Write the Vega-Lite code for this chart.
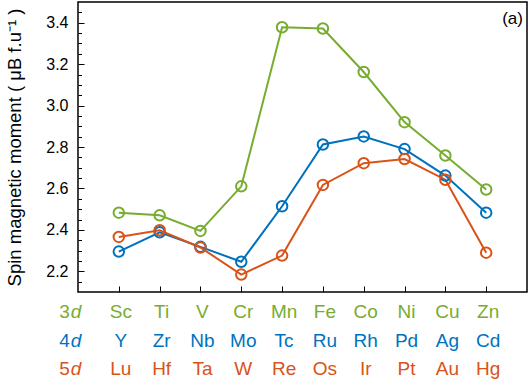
{
  "$schema": "https://vega.github.io/schema/vega-lite/v6.json",
  "width": 449,
  "height": 290,
  "autosize": "none",
  "padding": {"left": 78, "top": 2, "right": 2, "bottom": 90},
  "background": "white",
  "config": {
    "font": "Liberation Sans",
    "view": {"stroke": "black", "strokeWidth": 1.5},
    "axis": {"grid": false, "domain": false, "tickColor": "black", "tickWidth": 1, "labelColor": "black", "titleColor": "black"}
  },
  "resolve": {"axis": {"y": "independent"}},
  "datasets": {
    "pts": [
      {"series": "3d", "el": "Sc", "idx": 1, "v": 2.483},
      {"series": "3d", "el": "Ti", "idx": 2, "v": 2.47},
      {"series": "3d", "el": "V", "idx": 3, "v": 2.395},
      {"series": "3d", "el": "Cr", "idx": 4, "v": 2.61},
      {"series": "3d", "el": "Mn", "idx": 5, "v": 3.378},
      {"series": "3d", "el": "Fe", "idx": 6, "v": 3.372},
      {"series": "3d", "el": "Co", "idx": 7, "v": 3.162},
      {"series": "3d", "el": "Ni", "idx": 8, "v": 2.92},
      {"series": "3d", "el": "Cu", "idx": 9, "v": 2.759},
      {"series": "3d", "el": "Zn", "idx": 10, "v": 2.595},
      {"series": "4d", "el": "Y", "idx": 1, "v": 2.295},
      {"series": "4d", "el": "Zr", "idx": 2, "v": 2.388},
      {"series": "4d", "el": "Nb", "idx": 3, "v": 2.318},
      {"series": "4d", "el": "Mo", "idx": 4, "v": 2.246},
      {"series": "4d", "el": "Tc", "idx": 5, "v": 2.514},
      {"series": "4d", "el": "Ru", "idx": 6, "v": 2.812},
      {"series": "4d", "el": "Rh", "idx": 7, "v": 2.851},
      {"series": "4d", "el": "Pd", "idx": 8, "v": 2.79},
      {"series": "4d", "el": "Ag", "idx": 9, "v": 2.662},
      {"series": "4d", "el": "Cd", "idx": 10, "v": 2.483},
      {"series": "5d", "el": "Lu", "idx": 1, "v": 2.366},
      {"series": "5d", "el": "Hf", "idx": 2, "v": 2.398},
      {"series": "5d", "el": "Ta", "idx": 3, "v": 2.315},
      {"series": "5d", "el": "W", "idx": 4, "v": 2.184},
      {"series": "5d", "el": "Re", "idx": 5, "v": 2.276},
      {"series": "5d", "el": "Os", "idx": 6, "v": 2.617},
      {"series": "5d", "el": "Ir", "idx": 7, "v": 2.722},
      {"series": "5d", "el": "Pt", "idx": 8, "v": 2.742},
      {"series": "5d", "el": "Au", "idx": 9, "v": 2.642},
      {"series": "5d", "el": "Hg", "idx": 10, "v": 2.29}
    ],
    "rows": [
      {"series": "3d", "num": "3", "d": "d", "row": 2.003},
      {"series": "4d", "num": "4", "d": "d", "row": 1.863},
      {"series": "5d", "num": "5", "d": "d", "row": 1.726}
    ],
    "panel": [{"lbl": "(a)", "px": 10.9, "py": 3.418}]
  },
  "layer": [
    {
      "data": {"name": "pts"},
      "mark": {"type": "line", "strokeWidth": 2},
      "encoding": {
        "x": {
          "field": "idx", "type": "quantitative",
          "scale": {"domain": [0, 11], "nice": false, "zero": false},
          "axis": {"values": [1, 2, 3, 4, 5, 6, 7, 8, 9, 10], "labels": false, "tickSize": -6, "title": null}
        },
        "y": {
          "field": "v", "type": "quantitative",
          "scale": {"domain": [2.1, 3.5], "nice": false, "zero": false},
          "axis": {
            "orient": "left",
            "values": [2.2, 2.4, 2.6, 2.8, 3.0, 3.2, 3.4],
            "format": ".1f",
            "tickSize": -6,
            "labelPadding": 16,
            "labelFontSize": 16,
            "title": "Spin magnetic moment ( μB  f.u⁻¹ )",
            "titleFontSize": 18.5,
            "titleFontWeight": "normal",
            "titlePadding": 21
          }
        },
        "color": {
          "field": "series", "type": "nominal",
          "scale": {"domain": ["3d", "4d", "5d"], "range": ["#77AC30", "#0072BD", "#D95319"]},
          "legend": null
        }
      }
    },
    {
      "data": {"name": "pts"},
      "mark": {"type": "point", "shape": "circle", "filled": false, "size": 110, "strokeWidth": 2, "opacity": 1},
      "encoding": {
        "x": {"field": "idx", "type": "quantitative"},
        "y": {
          "field": "v", "type": "quantitative",
          "axis": {
            "orient": "left",
            "values": [2.15, 2.25, 2.3, 2.35, 2.45, 2.5, 2.55, 2.65, 2.7, 2.75, 2.85, 2.9, 2.95, 3.05, 3.1, 3.15, 3.25, 3.3, 3.35, 3.45],
            "labels": false,
            "tickSize": -3.5,
            "title": null
          }
        },
        "color": {"field": "series", "type": "nominal"}
      }
    },
    {
      "data": {"name": "pts"},
      "transform": [{"filter": "datum.series === '3d'"}],
      "mark": {"type": "text", "fontSize": 19, "baseline": "middle", "align": "center", "dx": 2},
      "encoding": {
        "x": {"field": "idx", "type": "quantitative"},
        "y": {"datum": 2.003, "axis": null},
        "color": {"field": "series", "type": "nominal"},
        "text": {"field": "el", "type": "nominal"}
      }
    },
    {
      "data": {"name": "pts"},
      "transform": [{"filter": "datum.series === '4d'"}],
      "mark": {"type": "text", "fontSize": 19, "baseline": "middle", "align": "center", "dx": 2},
      "encoding": {
        "x": {"field": "idx", "type": "quantitative"},
        "y": {"datum": 1.863, "axis": null},
        "color": {"field": "series", "type": "nominal"},
        "text": {"field": "el", "type": "nominal"}
      }
    },
    {
      "data": {"name": "pts"},
      "transform": [{"filter": "datum.series === '5d'"}],
      "mark": {"type": "text", "fontSize": 19, "baseline": "middle", "align": "center", "dx": 2},
      "encoding": {
        "x": {"field": "idx", "type": "quantitative"},
        "y": {"datum": 1.726, "axis": null},
        "color": {"field": "series", "type": "nominal"},
        "text": {"field": "el", "type": "nominal"}
      }
    },
    {
      "data": {"name": "rows"},
      "mark": {"type": "text", "fontSize": 19, "baseline": "middle", "align": "right"},
      "encoding": {
        "x": {"datum": -0.2},
        "y": {"field": "row", "type": "quantitative", "axis": null},
        "color": {"field": "series", "type": "nominal"},
        "text": {"field": "num", "type": "nominal"}
      }
    },
    {
      "data": {"name": "rows"},
      "mark": {"type": "text", "fontSize": 19, "baseline": "middle", "align": "left", "fontStyle": "italic", "dx": 1},
      "encoding": {
        "x": {"datum": -0.2},
        "y": {"field": "row", "type": "quantitative", "axis": null},
        "color": {"field": "series", "type": "nominal"},
        "text": {"field": "d", "type": "nominal"}
      }
    },
    {
      "data": {"name": "panel"},
      "mark": {"type": "text", "fontSize": 17, "baseline": "middle", "align": "right", "color": "black"},
      "encoding": {
        "x": {"field": "px", "type": "quantitative"},
        "y": {"field": "py", "type": "quantitative", "axis": null},
        "text": {"field": "lbl", "type": "nominal"}
      }
    }
  ]
}
